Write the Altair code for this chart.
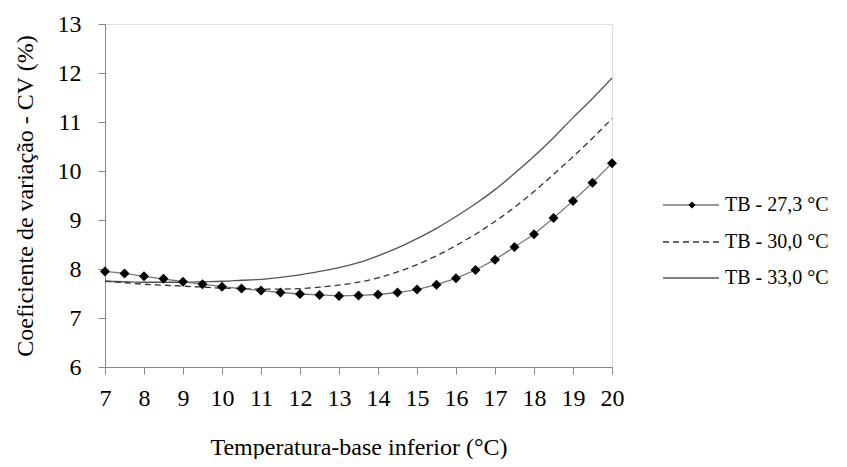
import altair as alt
import pandas as pd

temps = [7, 7.5, 8, 8.5, 9, 9.5, 10, 10.5, 11, 11.5, 12, 12.5, 13, 13.5,
         14, 14.5, 15, 15.5, 16, 16.5, 17, 17.5, 18, 18.5, 19, 19.5, 20]

cv_273 = [7.95, 7.91, 7.85, 7.80, 7.74, 7.69, 7.64, 7.60, 7.56, 7.52, 7.49, 7.47, 7.45, 7.46,
          7.48, 7.52, 7.58, 7.68, 7.81, 7.98, 8.19, 8.45, 8.71, 9.04, 9.39, 9.76, 10.16]
cv_300 = [7.75, 7.72, 7.69, 7.67, 7.65, 7.63, 7.61, 7.60, 7.59, 7.59, 7.60, 7.63, 7.67, 7.73,
          7.82, 7.94, 8.09, 8.27, 8.48, 8.71, 8.97, 9.26, 9.58, 9.93, 10.29, 10.67, 11.07]
cv_330 = [7.75, 7.74, 7.73, 7.73, 7.73, 7.74, 7.75, 7.77, 7.79, 7.83, 7.88, 7.95, 8.03, 8.13,
          8.27, 8.43, 8.62, 8.83, 9.07, 9.33, 9.62, 9.95, 10.30, 10.68, 11.09, 11.48, 11.90]

series_names = ["TB - 27,3 °C", "TB - 30,0  °C", "TB - 33,0 °C"]

FONT = "Liberation Serif"
W, H = 507, 343

rows = []
for name, vals in zip(series_names, [cv_273, cv_300, cv_330]):
    for t, v in zip(temps, vals):
        rows.append({"serie": name, "t": t, "cv": v})
df = pd.DataFrame(rows)

xscale = alt.Scale(domain=[7, 20], nice=False, zero=False)
yscale = alt.Scale(domain=[6, 13], nice=False, zero=False)

xaxis = alt.Axis(values=list(range(7, 21)), title="Temperatura-base inferior (°C)",
                 grid=False, domainColor="#868686", tickColor="#868686", tickSize=7,
                 labelFont=FONT, labelFontSize=24, labelColor="black", labelPadding=12,
                 labelOverlap=False,
                 titleFont=FONT, titleFontSize=24, titleFontWeight="normal", titleColor="black",
                 titleY=80, titleBaseline="middle", labelFlush=False)
yaxis = alt.Axis(values=list(range(6, 14)), title="Coeficiente de variação - CV (%)",
                 grid=False, domainColor="#868686", tickColor="#868686", tickSize=7,
                 labelFont=FONT, labelFontSize=24, labelColor="black", labelPadding=17,
                 labelOverlap=False,
                 titleFont=FONT, titleFontSize=24, titleFontWeight="normal", titleColor="black",
                 titleX=-80, titleBaseline="middle", labelFlush=False)

X = alt.X("t:Q", scale=xscale, axis=xaxis)
Y = alt.Y("cv:Q", scale=yscale, axis=yaxis)

base = alt.Chart(df)

line3 = base.transform_filter(alt.datum.serie == series_names[2]).mark_line(
    color="#555555", strokeWidth=1.3, interpolate="monotone").encode(x=X, y=Y)
line2 = base.transform_filter(alt.datum.serie == series_names[1]).mark_line(
    color="#333333", strokeWidth=1.3, strokeDash=[6, 4], interpolate="monotone").encode(x=X, y=Y)
line1 = base.transform_filter(alt.datum.serie == series_names[0]).mark_line(
    color="#777777", strokeWidth=1.3).encode(x=X, y=Y)
pts1 = base.transform_filter(alt.datum.serie == series_names[0]).mark_point(
    shape="diamond", filled=True, color="black", size=100, opacity=1).encode(x=X, y=Y)

# manual legend
leg_df = pd.DataFrame({"serie": series_names})
legend_layers = []
ly = [181, 218, 254]
styles = [("#777777", []), ("#333333", [6, 4]), ("#555555", [])]
for i, name in enumerate(series_names):
    col, dash = styles[i]
    d = leg_df[leg_df.serie == name]
    rule_kwargs = dict(color=col, strokeWidth=1.3)
    if dash:
        rule_kwargs["strokeDash"] = dash
    legend_layers.append(alt.Chart(d).mark_rule(**rule_kwargs).encode(
        x=alt.value(558), x2=alt.value(614), y=alt.value(ly[i])))
    legend_layers.append(alt.Chart(d).mark_text(
        font=FONT, fontSize=20, color="black", align="left", baseline="middle").encode(
        x=alt.value(620), y=alt.value(ly[i]), text="serie:N"))
legend_layers.append(alt.Chart(leg_df[leg_df.serie == series_names[0]]).mark_point(
    shape="diamond", filled=True, color="black", size=50, opacity=1).encode(
    x=alt.value(587), y=alt.value(ly[0])))

chart = alt.layer(line3, line2, line1, pts1, *legend_layers).properties(
    width=W, height=H,
    autosize=alt.AutoSizeParams(type="none"),
    padding={"left": 97, "top": 16, "right": 227, "bottom": 92},
).configure_view(stroke=None).configure(background="white", font=FONT).configure_axis(
    labelFont=FONT, titleFont=FONT).configure_text(font=FONT)

chart.save("out.html", embed_options={"renderer": "svg", "actions": False})
